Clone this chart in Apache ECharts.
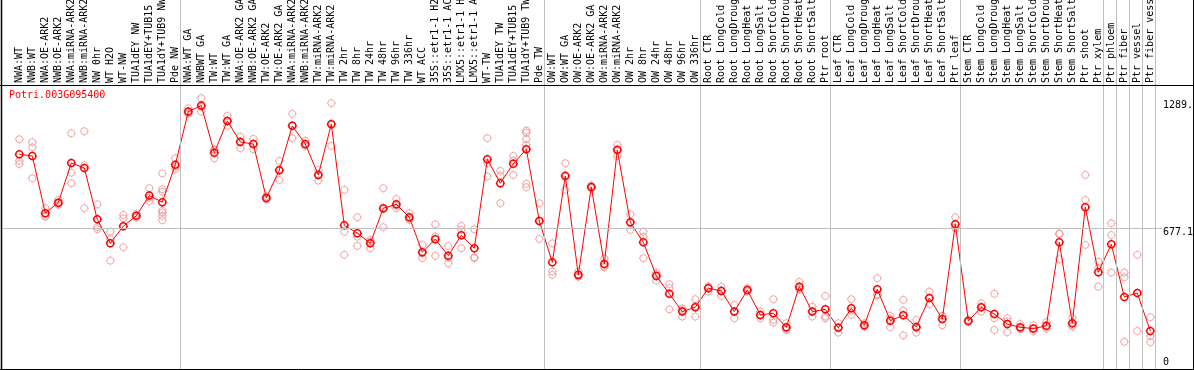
<!DOCTYPE html>
<html>
<head>
<meta charset="utf-8">
<script src="https://cdn.jsdelivr.net/npm/echarts@6/dist/echarts.min.js"></script>
<style>
html,body{margin:0;padding:0;background:#fff;}
#chart{width:1194px;height:370px;}
</style>
</head>
<body>
<div id="chart"></div>
<script>
const chartTitle = 'Potri.003G095400';

const categories = [
  'NWA:WT','NWB:WT','NWA:OE-ARK2','NWB:OE-ARK2','NWA:miRNA-ARK2','NWB:miRNA-ARK2','NW 0hr','WT H2O','WT-NW','TUA1dEY NW','TUA1dEY+TUB15 NW','TUA1dY+TUB9 NW','Pde NW',
  'NWA:WT GA','NWBWT GA','TW:WT','TW:WT GA','NWA:OE-ARK2 GA','NWB:OE-ARK2 GA','TW:OE-ARK2','TW:OE-ARK2 GA','NWA:miRNA-ARK2 GA','NWB:miRNA-ARK2 GA','TW:miRNA-ARK2','TW:miRNA-ARK2 GA',
  'TW 2hr','TW 8hr','TW 24hr','TW 48hr','TW 96hr','TW 336hr','WT ACC','35S::etr1-1 H2O','35S::etr1-1 ACC','LMX5::etr1-1 H2O','LMX5::etr1-1 ACC','WT-TW','TUA1dEY TW','TUA1dEY+TUB15 TW','TUA1dY+TUB9 TW','Pde TW',
  'OW:WT','OW:WT GA','OW:OE-ARK2','OW:OE-ARK2 GA','OW:miRNA-ARK2','OW:miRNA-ARK2 GA','OW 2hr','OW 8hr','OW 24hr','OW 48hr','OW 96hr','OW 336hr',
  'Root CTR','Root LongCold','Root LongDrought','Root LongHeat','Root LongSalt','Root ShortCold','Root ShortDrought','Root ShortHeat','Root ShortSalt','Ptr root',
  'Leaf CTR','Leaf LongCold','Leaf LongDrought','Leaf LongHeat','Leaf LongSalt','Leaf ShortCold','Leaf ShortDrought','Leaf ShortHeat','Leaf ShortSalt','Ptr leaf',
  'Stem CTR','Stem LongCold','Stem LongDrought','Stem LongHeat','Stem LongSalt','Stem ShortCold','Stem ShortDrought','Stem ShortHeat','Stem ShortSalt','Ptr shoot','Ptr xylem',
  'Ptr phloem','Ptr fiber','Ptr vessel','Ptr fiber vessel'
];

// sizes of the sample groups separated by vertical grey lines
const groupSizes = [13, 28, 12, 10, 10, 11, 1, 1, 1, 1];

const meanValues = [
  1035,1027,750,801,993,969,720,604,687,737,835,803,985,
  1242,1271,1043,1197,1095,1085,824,958,1173,1085,935,1181,691,653,604,774,793,730,561,624,544,643,580,1011,895,989,1060,712,
  512,930,451,877,504,1056,706,609,446,359,273,294,
  386,373,273,378,257,265,197,394,273,284,
  195,289,207,381,229,255,199,339,237,696,
  228,294,262,213,197,191,204,609,217,779,464,
  599,344,363,179
];

const replicateValues = [
  [1108,1003,988],[1094,1069,919],[774,737,733],[814,798,790],[1137,946,895],[1147,982,774],[793,682,672],[660,624,520],[741,725,585],[748,737,728],[871,825,809],[943,866,854,762,753,737,716],[1016,975,963],
  [1258,1237,1231],[1307,1242,1264],[1056,1057,1016],[1221,1173,1197],[1121,1065,1099],[1110,1060,1085],[832,824,816],[1003,911,960],[1231,1113,1175],[1101,1076,1078],[959,908,938],[1283,1076,1184],
  [863,660,548],[730,636,591],[620,580,612],[871,682,769],[819,774,786],[750,717,723],[596,532,555],[696,636,543],[591,507,534],[688,669,580],[672,536,532],[1113,927,993],[955,798,932],[1027,935,1005],[1150,1140,1108,1081,1060,892,876],[798,625,713],
  [604,467,451],[992,863,935],[467,442,444],[885,870,876],[494,488,530],[1081,1027,1060],[745,669,704],[660,636,532],[462,423,453],[406,284,387],[289,249,281],[333,249,300],
  [395,370,393],[394,349,376],[305,241,273],[378,370,386],[273,241,257],[333,233,220],[217,184,190],[418,381,383],[297,249,273],[349,249,241],
  [217,171,197],[333,257,277],[217,200,204],[435,352,356],[252,197,238],[330,278,158],[233,171,193],[370,309,338],[252,207,252],[730,677,681],
  [235,225,224],[314,273,295],[359,241,184],[241,173,225],[213,191,187],[206,178,189],[222,191,199],[649,527,651],[244,200,207],[935,814,596],[515,394,483],
  [701,644,462],[462,440,127],[548,179],[246,155,125]
];

const yTickValues = [0, 677.1, 1289];
const yTickLabels = ['0', '677.1', '1289.'];
const yGridValue = 677.1;

// ---- build ----
const FONT = 'DejaVu Sans Mono';
const Y_MIN = -5, Y_MAX = 1366;
const SEP_SHIFT = -0.11;
const markerPath = 'path://M2,9A7,7 0 1,1 16,9A7,7 0 1,1 2,9Z M9,0L9,2 M9,16L9,18 M0,9L2,9 M16,9L18,9';

const scatterData = [];
replicateValues.forEach((arr, i) => arr.forEach(v => scatterData.push([i, v])));
const meanData = meanValues.map((v, i) => [i, v]);

const boundaries = [0];
groupSizes.forEach(s => boundaries.push(boundaries[boundaries.length - 1] + s));

const chart = echarts.init(document.getElementById('chart'), null, {renderer: 'canvas'});
const gridBase = {containLabel: false, outerBoundsMode: 'none'};
const option = {
  animation: false,
  backgroundColor: '#ffffff',
  title: {
    text: chartTitle, left: 9, top: 90, padding: 0,
    textStyle: {fontFamily: FONT, fontSize: 10, fontWeight: 'normal', color: '#ff0000'}
  },
  grid: [
    Object.assign({left: 12.8, top: 86, width: 1144, height: 283}, gridBase),
    Object.assign({left: 12.8, top: 0, width: 1144, height: 369}, gridBase),
    Object.assign({left: 2, top: 86, width: 1160, height: 283}, gridBase)
  ],
  xAxis: [
    {
      gridIndex: 0, type: 'category', position: 'top', data: categories, boundaryGap: true,
      axisLine: {show: false}, axisTick: {show: false}, splitLine: {show: false},
      axisLabel: {interval: 0, rotate: 90, margin: 3, hideOverlap: false, fontFamily: FONT, fontSize: 10, color: '#000'}
    },
    {gridIndex: 1, type: 'value', min: -0.5, max: categories.length - 0.5, show: false},
    {gridIndex: 2, type: 'value', min: 0, max: 1, show: false}
  ],
  yAxis: [
    {gridIndex: 0, type: 'value', min: Y_MIN, max: Y_MAX, show: false},
    {gridIndex: 1, type: 'value', min: 0, max: 1, show: false},
    {
      gridIndex: 2, type: 'value', min: Y_MIN, max: Y_MAX, position: 'right',
      axisLine: {show: false}, axisTick: {show: false}, splitLine: {show: false},
      axisLabel: {
        customValues: yTickValues, margin: 1, fontFamily: FONT, fontSize: 10, color: '#000',
        formatter: function (val) {
          let k = 0, d = Infinity;
          yTickValues.forEach((t, j) => { if (Math.abs(t - val) < d) { d = Math.abs(t - val); k = j; } });
          return (yTickValues[k] === 0 ? '{b|' : '{t|') + yTickLabels[k] + '}';
        },
        rich: {
          t: {padding: [8, 0, 0, 0], fontFamily: FONT, fontSize: 10, color: '#000'},
          b: {padding: [0, 0, 11, 0], fontFamily: FONT, fontSize: 10, color: '#000'}
        }
      }
    }
  ],
  series: [
    {
      type: 'line', xAxisIndex: 1, yAxisIndex: 1, data: [[0, -1]], showSymbol: false, silent: true,
      lineStyle: {opacity: 0},
      markLine: {
        silent: true, symbol: ['none', 'none'], label: {show: false},
        lineStyle: {color: '#c0c0c0', width: 1, type: 'solid'},
        data: boundaries.map(b => ({xAxis: b - 0.5 + SEP_SHIFT}))
      }
    },
    {
      type: 'line', xAxisIndex: 2, yAxisIndex: 2, data: [[0, -100]], showSymbol: false, silent: true,
      lineStyle: {opacity: 0},
      markLine: {
        silent: true, symbol: ['none', 'none'], label: {show: false},
        lineStyle: {color: '#c0c0c0', width: 1, type: 'solid'},
        data: [{yAxis: yGridValue}]
      }
    },
    {
      type: 'scatter', xAxisIndex: 0, yAxisIndex: 0, data: scatterData, z: 3,
      symbol: markerPath, symbolSize: 9,
      itemStyle: {color: 'rgba(0,0,0,0)', borderColor: '#f09494', borderWidth: 1}
    },
    {
      type: 'line', xAxisIndex: 0, yAxisIndex: 0, data: meanData, z: 4,
      symbol: markerPath, symbolSize: 9, showAllSymbol: true,
      lineStyle: {color: '#ff0000', width: 1},
      itemStyle: {color: 'rgba(0,0,0,0)', borderColor: '#ff0000', borderWidth: 1.5}
    }
  ],
  graphic: [
    {type: 'line', z: 100, shape: {x1: 0, y1: 85.5, x2: 1194, y2: 85.5}, style: {stroke: '#000', lineWidth: 1}},
    {type: 'line', z: 100, shape: {x1: 1.5, y1: 0, x2: 1.5, y2: 370}, style: {stroke: '#000', lineWidth: 1.5}},
    {type: 'line', z: 100, shape: {x1: 0, y1: 369.5, x2: 1194, y2: 369.5}, style: {stroke: '#000', lineWidth: 1}},
    {type: 'line', z: 100, shape: {x1: 1193.5, y1: 0, x2: 1193.5, y2: 370}, style: {stroke: '#000', lineWidth: 1}}
  ]
};
chart.setOption(option);
</script>
</body>
</html>
